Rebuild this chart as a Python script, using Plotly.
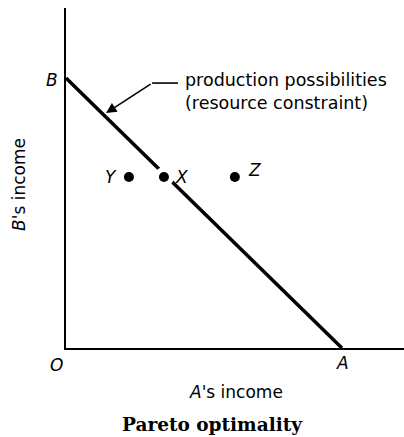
import plotly.graph_objects as go

# Data (economic units: A's income on x, B's income on y)
frontier_x = [0, 10]          # B intercept to A intercept
frontier_y = [10, 0]
point_names = ["Y", "X", "Z"]
point_x = [2.28, 3.55, 6.12]
point_y = [6.33, 6.33, 6.33]
axis_labels = {"O": (0, 0), "A": (10, 0), "B": (0, 10)}
x_title = "<i>A</i>'s income"
y_title = "<i>B</i>'s income"
caption = "Pareto optimality"
constraint_text = "production possibilities<br>(resource constraint)"

SANS = "DejaVu Sans"
FS = 17

fig = go.Figure()
fig.add_trace(go.Scatter(x=frontier_x, y=frontier_y, mode="lines",
                         line=dict(color="black", width=3.5), hoverinfo="skip"))
# white halo around X (gap in the line)
fig.add_trace(go.Scatter(x=[point_x[1]], y=[point_y[1]], mode="markers",
                         marker=dict(color="white", size=20), hoverinfo="skip"))
fig.add_trace(go.Scatter(x=point_x, y=point_y, mode="markers",
                         marker=dict(color="black", size=10), hoverinfo="skip"))

ann = []
shifts = {"Y": (-18, 0), "X": (18, 0), "Z": (20, 7)}
for n, x, y in zip(point_names, point_x, point_y):
    dx, dy = shifts[n]
    ann.append(dict(x=x, y=y, text=f"<i>{n}</i>", showarrow=False, xshift=dx, yshift=dy,
                    xanchor="center", yanchor="middle",
                    font=dict(family=SANS, size=FS, color="black")))
lab_shift = {"O": (-10, -17), "A": (1, -15), "B": (-14, -2)}
for n, (x, y) in axis_labels.items():
    dx, dy = lab_shift[n]
    ann.append(dict(x=x, y=y, text=f"<i>{n}</i>", showarrow=False, xshift=dx, yshift=dy,
                    xanchor="center", yanchor="middle",
                    font=dict(family=SANS, size=FS, color="black")))

# constraint label
ann.append(dict(x=4.25, y=9.48, text=constraint_text, showarrow=False, xanchor="left",
                yanchor="middle", align="left",
                font=dict(family=SANS, size=17.5, color="black")))
# arrow
ann.append(dict(x=1.45, y=8.7, ax=3.12, ay=9.81, axref="x", ayref="y", text="",
                showarrow=True, arrowhead=2, arrowsize=1.3, arrowwidth=1.6, arrowcolor="black"))
# titles
ann.append(dict(x=6.16, y=0, yref="paper", text=x_title, showarrow=False, yshift=-44,
                xanchor="center", yanchor="middle",
                font=dict(family=SANS, size=FS, color="black")))
ann.append(dict(x=0, xref="paper", y=6.04, text=y_title, showarrow=False, xshift=-47,
                xanchor="center", yanchor="middle",
                textangle=-90, font=dict(family=SANS, size=FS, color="black")))
ann.append(dict(x=5.3, y=0, yref="paper", text=f"<b>{caption}</b>", showarrow=False, yshift=-76,
                xanchor="center", yanchor="middle",
                font=dict(family="DejaVu Serif", size=18.5, color="black")))

fig.update_layout(
    width=404, height=437,
    margin=dict(l=66, r=0, t=8, b=89),
    paper_bgcolor="white", plot_bgcolor="white",
    showlegend=False,
    annotations=ann,
    shapes=[dict(type="line", x0=3.12, y0=9.81, x1=4.06, y1=9.81,
                 line=dict(color="black", width=1.6))],
    xaxis=dict(range=[0, 12.25], showgrid=False, zeroline=False, showticklabels=False,
               ticks="", showline=True, linecolor="black", linewidth=2, fixedrange=True),
    yaxis=dict(range=[0, 12.59], showgrid=False, zeroline=False, showticklabels=False,
               ticks="", showline=True, linecolor="black", linewidth=2, fixedrange=True),
)
# remove the default page margin so the figure fills the 404x437 window exactly
fig.write_html(
    "out.html",
    config={"displayModeBar": False},
    post_script="document.body.style.margin='0';document.body.style.overflow='hidden';",
)
